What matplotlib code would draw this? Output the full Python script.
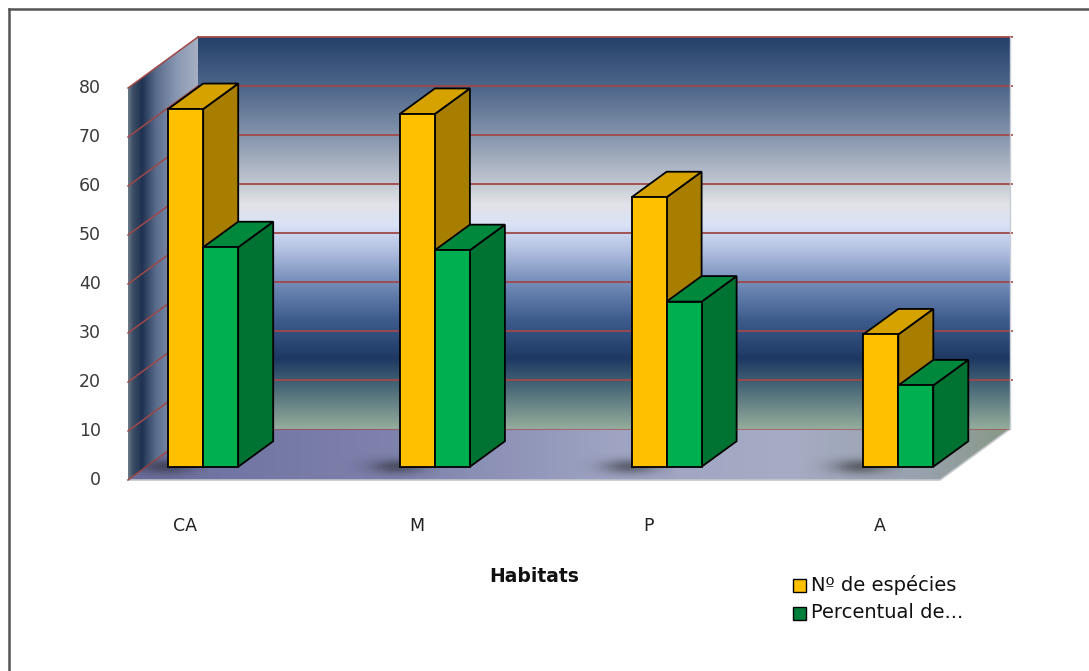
import numpy as np
import matplotlib
matplotlib.use("Agg")
import matplotlib.pyplot as plt
from matplotlib.patches import Polygon, Rectangle
from matplotlib.lines import Line2D
from matplotlib.colors import LinearSegmentedColormap

# ---- data ----
categories = ["CA", "M", "P", "A"]
n_especies = [73, 72, 55, 27]
percentual = [44.8, 44.2, 33.7, 16.6]
series_names = ["Nº de espécies", "Percentual de..."]
y_ticks = [0, 10, 20, 30, 40, 50, 60, 70, 80]
x_title = "Habitats"

# ---- layout of the oblique 3D box ----
W, H, DPI = 1089, 671, 100
CAT_PX = 231.7     # pixels per category step
X0_PX = 185.0      # pixel x of first category on the front plane
Y0_PX = 480.0      # pixel y (from top) of value 0 on the front plane
UNIT_PX = 4.9      # pixels per value unit

fig = plt.figure(figsize=(W / DPI, H / DPI), dpi=DPI)
ax = fig.add_axes([0, 0, 1, 1])
ax.set_xlim(-X0_PX / CAT_PX, (W - X0_PX) / CAT_PX)
ax.set_ylim(-(H - Y0_PX) / UNIT_PX, Y0_PX / UNIT_PX)
ax.axis("off")

DX = 70 / CAT_PX          # depth offset in category units
DY = 51 / UNIT_PX         # depth offset in value units
XL = (128 - X0_PX) / CAT_PX
XR = (940 - X0_PX) / CAT_PX
YMAX = y_ticks[-1]


def gradient_fill(pts, stops, direction, extent, zorder):
    cmap = LinearSegmentedColormap.from_list("g", stops)
    ramp = np.linspace(0, 1, 512)
    img = ramp[:, None] if direction == "v" else ramp[None, :]
    poly = Polygon(pts, closed=True, facecolor="none", edgecolor="none")
    ax.add_patch(poly)
    im = ax.imshow(img, cmap=cmap, extent=extent, origin="lower",
                   aspect="auto", interpolation="bilinear", zorder=zorder)
    im.set_clip_path(poly)
    return poly


# back wall (vertical gradient)
back_stops = [
    (0.0, "#94ac9c"), (8.2 / 80, "#4b6a78"), (14.3 / 80, "#1d3862"),
    (22.4 / 80, "#3e5d8e"), (30.4 / 80, "#7890bc"), (36.7 / 80, "#b4c2e2"),
    (41.8 / 80, "#dae2f6"), (45.9 / 80, "#e2e3e8"), (50.4 / 80, "#c0c6d0"),
    (60.4 / 80, "#8292aa"), (70.4 / 80, "#4b6488"), (1.0, "#26416a"),
]
back_pts = [(XL + DX, DY), (XR + DX, DY), (XR + DX, YMAX + DY), (XL + DX, YMAX + DY)]
gradient_fill(back_pts, back_stops, "v", (XL + DX, XR + DX, DY, YMAX + DY), 1)

# left side wall (horizontal gradient)
left_stops = [(0.0, "#6a7a86"), (0.07, "#3c4e66"), (0.2, "#1f3252"),
              (0.4, "#5a6c8c"), (0.7, "#8a98b2"), (1.0, "#a6b0c2")]
left_pts = [(XL, 0), (XL + DX, DY), (XL + DX, YMAX + DY), (XL, YMAX)]
gradient_fill(left_pts, left_stops, "h", (XL, XL + DX, 0, YMAX + DY), 1)

# floor (horizontal gradient)
floor_stops = [(0.0, "#6a6e9c"), (0.3, "#7e82ac"), (0.55, "#9ea4c2"),
               (0.75, "#a6acc4"), (0.9, "#98a2ae"), (1.0, "#889886")]
floor_pts = [(XL, 0), (XR, 0), (XR + DX, DY), (XL + DX, DY)]
floor_poly = gradient_fill(floor_pts, floor_stops, "h", (XL, XR + DX, 0, DY), 1)
ax.plot([XL, XR, XR + DX], [0, 0, DY], color="#c4c6cc", lw=1.2, zorder=2)

# gridlines on back and side walls
GRID = "#a04848"
for v in y_ticks:
    if v > 0:
        ax.plot([XL + DX, XR + DX + 0.01], [v + DY, v + DY], color=GRID, lw=1.3, zorder=2)
    ax.plot([XL, XL + DX], [v, v + DY], color=GRID, lw=1.1, zorder=2)
ax.plot([XL + DX, XR + DX], [DY, DY], color=GRID, lw=0.8, alpha=0.6, zorder=2)
ax.plot([XR + DX, XR + DX], [DY, YMAX + DY], color="#c8ccd4", lw=1.0, zorder=2)

# bar geometry
BAR_W = 35 / CAT_PX
D_FRONT, D_BACK = 0.26, 0.76

# soft shadows on the floor next to each group
sx = np.linspace(-1, 1, 160)
sy = np.linspace(-1, 1, 80)
SX, SY = np.meshgrid(sx, sy)
shadow = np.zeros((80, 160, 4))
shadow[..., :3] = 0.12
shadow[..., 3] = 0.5 * np.exp(-((SX - 0.15) ** 2) / 0.3 - ((SY - 0.1) ** 2) / 0.25)
for i in range(len(categories)):
    cx = i - BAR_W + D_FRONT * DX
    cy = D_FRONT * DY
    ext = (cx - 60 / CAT_PX, cx + 40 / CAT_PX, cy - 16 / UNIT_PX, cy + 14 / UNIT_PX)
    im = ax.imshow(shadow, extent=ext, origin="lower", aspect="auto",
                   interpolation="bilinear", zorder=3)
    im.set_clip_path(floor_poly)


def box(x0, x1, v, face, top, side, z):
    ox, oy = D_FRONT * DX, D_FRONT * DY
    bx, by = D_BACK * DX, D_BACK * DY
    front = [(x0 + ox, oy), (x1 + ox, oy), (x1 + ox, v + oy), (x0 + ox, v + oy)]
    topf = [(x0 + ox, v + oy), (x1 + ox, v + oy), (x1 + bx, v + by), (x0 + bx, v + by)]
    sidef = [(x1 + ox, oy), (x1 + bx, by), (x1 + bx, v + by), (x1 + ox, v + oy)]
    for pts, c in ((sidef, side), (topf, top), (front, face)):
        ax.add_patch(Polygon(pts, closed=True, facecolor=c, edgecolor="black",
                             lw=1.3, joinstyle="miter", zorder=z))


for i in range(len(categories)):
    box(i - BAR_W, i, n_especies[i], "#ffc000", "#d6a200", "#a87e00", 5 + 2 * i)
    box(i, i + BAR_W, percentual[i], "#00b050", "#00893c", "#007232", 6 + 2 * i)

# axis labels
TXT = "#3a3a3a"
for v in y_ticks:
    ax.text((101 - X0_PX) / CAT_PX, v, str(v), ha="right", va="center",
            fontsize=12.5, color=TXT, family="DejaVu Sans")
for i, c in enumerate(categories):
    ax.text(i, (Y0_PX - 526) / UNIT_PX, c, ha="center", va="center",
            fontsize=12.5, color="#222222", family="DejaVu Sans")
ax.text((534 - X0_PX) / CAT_PX, (Y0_PX - 576) / UNIT_PX, x_title, ha="center",
        va="center", fontsize=13.5, fontweight="bold", color="#111111", family="DejaVu Sans")

# legend
leg_colors = ["#ffc000", "#00803a"]
for k, (name, col) in enumerate(zip(series_names, leg_colors)):
    yc = 585 + 28 * k
    fig.add_artist(Rectangle((793 / W, 1 - (yc + 6.5) / H), 13 / W, 13 / H,
                             transform=fig.transFigure, facecolor=col,
                             edgecolor="black", lw=1.0))
    fig.text(811 / W, 1 - yc / H, name, ha="left", va="center",
             fontsize=14, color="#111111", family="DejaVu Sans")

# outer frame (top and left edges)
fig.add_artist(Line2D([9 / W, 1], [1 - 8.5 / H, 1 - 8.5 / H],
                      transform=fig.transFigure, color="#555555", lw=1.8))
fig.add_artist(Line2D([9 / W, 9 / W], [0, 1 - 8.5 / H],
                      transform=fig.transFigure, color="#555555", lw=1.8))

fig.savefig("out.png", dpi=DPI, facecolor="white")
